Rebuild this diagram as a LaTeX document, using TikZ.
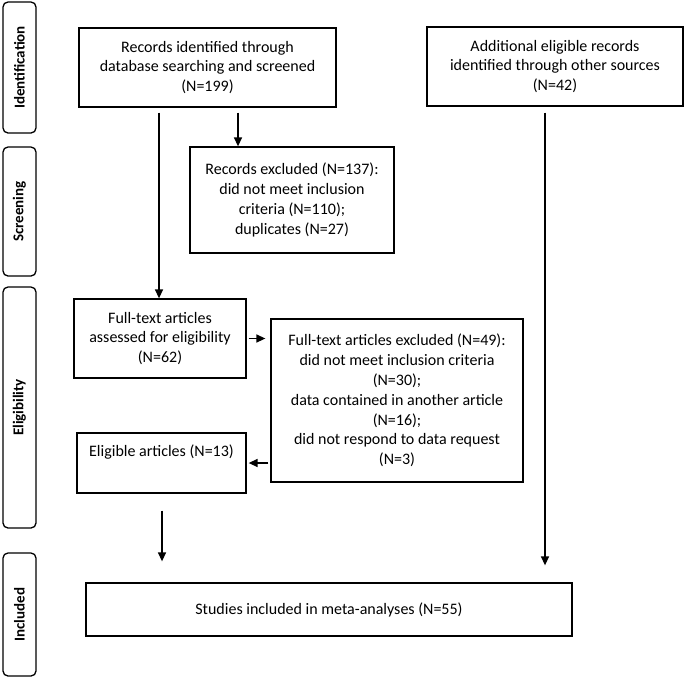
\documentclass[tikz,border=0pt]{standalone}
\usepackage{fontspec}
\setmainfont{Carlito}
\usetikzlibrary{arrows.meta,calc}
\begin{document}
\begin{tikzpicture}[x=1pt,y=-1pt,
  box/.style={draw, line width=1.3pt, align=center, inner sep=0pt, font=\fontsize{16}{19.8}\selectfont},
  side/.style={draw, line width=1.3pt, rounded corners=5pt, inner sep=0pt, rotate=90, font=\bfseries\fontsize{15}{18}\selectfont},
  arr/.style={line width=1.4pt, -{Triangle[width=8pt,length=9pt]}}]
\useasboundingbox (0,0) rectangle (685,678);
% side labels
\node[side, minimum width=131pt, minimum height=33pt] (sid) at (19.5,67.5) {Identification};
\node[side, minimum width=129pt, minimum height=33pt] (sscr) at (19.5,211.5) {Screening};
\node[side, minimum width=241pt, minimum height=33pt] (seli) at (19.5,407.5) {Eligibility};
\node[side, minimum width=123pt, minimum height=33pt] (sinc) at (19.5,614.5) {Included};
% boxes
\node[box, minimum width=257pt, minimum height=79pt] (rec) at (207.5,67.5)
  {Records identified through\\database searching and screened\\(N=199)};
\node[box, minimum width=256pt, minimum height=79pt] (add) at (555,66.5)
  {Additional eligible records\\identified through other sources\\(N=42)};
\node[box, minimum width=204pt, minimum height=106pt] (excl) at (292,200)
  {Records excluded (N=137):\\did not meet inclusion\\criteria (N=110);\\duplicates (N=27)};
\node[box, minimum width=172pt, minimum height=79pt] (full) at (160,338.5)
  {Full-text articles\\assessed for eligibility\\(N=62)};
\node[box, minimum width=252pt, minimum height=163pt] (fexcl) at (397,400.5)
  {Full-text articles excluded (N=49):\\did not meet inclusion criteria\\(N=30);\\data contained in another article\\(N=16);\\did not respond to data request\\(N=3)};
\node[box, minimum width=169pt, minimum height=60pt] (elig) at (161.5,463)
  {Eligible articles (N=13)\\[4pt]\mbox{}};
\node[box, minimum width=486pt, minimum height=53pt] (stud) at (329,609.5)
  {Studies included in meta-analyses (N=55)};
% connectors
\coordinate (a1) at ($(rec.south)+(30.5,5)$);
\draw[arr] (a1) -- (a1 |- excl.north);
\coordinate (a2) at ($(rec.south)+(-48.5,5)$);
\draw[arr] (a2) -- (a2 |- full.north);
\coordinate (a3) at ($(add.south)+(-10,6)$);
\draw[arr] (a3) -- ($(a3 |- stud.north)+(0,-17)$);
\draw[arr] ($(full.east)+(2,0)$) -- ($(fexcl.west |- full.east)+(-5,0)$);
\draw[arr] ($(fexcl.west |- elig.east)+(-2,0)$) -- ($(elig.east)+(2,0)$);
\coordinate (a6) at ($(elig.south)+(0.5,17)$);
\draw[arr] (a6) -- ($(a6 |- stud.north)+(0,-21)$);
\end{tikzpicture}
\end{document}
